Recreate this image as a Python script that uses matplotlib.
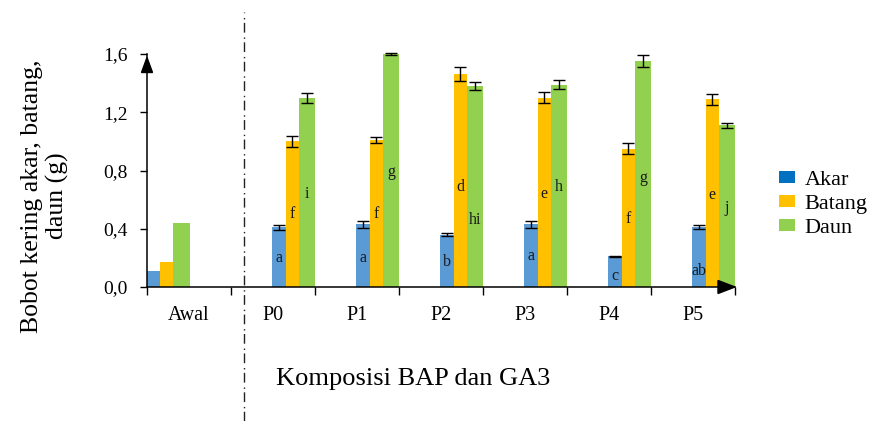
import matplotlib
matplotlib.use("Agg")
import matplotlib.pyplot as plt
from matplotlib.patches import Patch, Polygon
import matplotlib.transforms as mtransforms
import numpy as np

# ---- data -------------------------------------------------------------
groups = ["Awal", "P0", "P1", "P2", "P3", "P4", "P5"]
series = ["Akar", "Batang", "Daun"]

akar = [0.11, 0.41, 0.43, 0.36, 0.43, 0.21, 0.41]
batang = [0.17, 1.00, 1.01, 1.46, 1.30, 0.95, 1.29]
daun = [0.44, 1.30, 1.60, 1.38, 1.39, 1.55, 1.11]

akar_err = [0.0, 0.016, 0.025, 0.012, 0.022, 0.005, 0.015]
batang_err = [0.0, 0.036, 0.022, 0.048, 0.037, 0.039, 0.037]
daun_err = [0.0, 0.034, 0.006, 0.025, 0.033, 0.041, 0.019]

akar_letters = ["", "a", "a", "b", "a", "c", "ab"]
batang_letters = ["", "f", "f", "d", "e", "f", "e"]
daun_letters = ["", "i", "g", "hi", "h", "g", "j"]

y_ticks = [0.0, 0.4, 0.8, 1.2, 1.6]
y_ticklabels = ["0,0", "0,4", "0,8", "1,2", "1,6"]

# ---- layout -----------------------------------------------------------
colors = ["#5B9BD5", "#FFC000", "#92D050"]
legend_colors = ["#0070C0", "#FFC000", "#92D050"]
widths = [0.16, 0.155, 0.20]
# start of each cluster inside its slot (the baseline group sits flush left)
cluster_start = [0.0] + [0.49] * 6
# vertical placement of the significance letters (data units)
akar_lab_y = [0, 0.20, 0.20, 0.17, 0.21, 0.075, 0.107]
batang_lab_y = [0, 0.50, 0.50, 0.69, 0.64, 0.47, 0.63]
daun_lab_y = [0, 0.64, 0.79, 0.46, 0.69, 0.75, 0.54]

serif = ["Liberation Serif", "DejaVu Serif"]
plt.rcParams["font.family"] = serif

fig = plt.figure(figsize=(8.71, 4.21), dpi=100)
W, H = 871, 421
x0, x1, y0, y1 = 147, 735, 287, 54
ax = fig.add_axes([x0 / W, 1 - y0 / H, (x1 - x0) / W, (y0 - y1) / H])

n = len(groups)
slots = np.arange(n)
vals = [akar, batang, daun]
errs = [akar_err, batang_err, daun_err]
letters = [akar_letters, batang_letters, daun_letters]
lab_y = [akar_lab_y, batang_lab_y, daun_lab_y]

offset = np.array(cluster_start, dtype=float)
for k in range(3):
    left = slots + offset
    centers = left + widths[k] / 2
    ax.bar(left, vals[k], width=widths[k], align="edge", color=colors[k],
           edgecolor="none", zorder=2)
    for i in range(1, n):
        ax.errorbar(centers[i], vals[k][i], yerr=errs[k][i], fmt="none",
                    ecolor="black", elinewidth=1.0, capsize=4.2,
                    capthick=1.0, zorder=3, clip_on=False)
        ax.text(centers[i], lab_y[k][i], letters[k][i], ha="center",
                va="center", fontsize=11.5, color="#1a1a1a", zorder=4)
    offset = offset + widths[k]

ax.set_xlim(0, n)
ax.set_ylim(0, 1.6)

# y axis
ax.set_yticks(y_ticks)
ax.set_yticklabels(y_ticklabels, fontsize=14)
ax.tick_params(axis="y", direction="out", length=5, width=1.0, pad=9)

# x axis: boundary ticks, group names centred in each slot
ax.set_xticks(np.arange(n + 1))
ax.set_xticklabels([])
ax.set_xticks(slots + 0.5, minor=True)
ax.set_xticklabels(groups, minor=True, fontsize=14.5)
ax.tick_params(axis="x", which="major", direction="out", length=6, width=1.0)
ax.tick_params(axis="x", which="minor", length=0, pad=14)

for s in ["top", "right"]:
    ax.spines[s].set_visible(False)
for s in ["left", "bottom"]:
    ax.spines[s].set_linewidth(1.1)
    ax.spines[s].set_zorder(5)

# arrow heads on both axes (axes fraction)
aw, ah = (x1 - x0), (y0 - y1)
ax.add_patch(Polygon([[1.0, 0.0], [1 - 17 / aw, 6.5 / ah], [1 - 17 / aw, -6.5 / ah]],
                     closed=True, transform=ax.transAxes, color="black",
                     clip_on=False, zorder=6))
ax.add_patch(Polygon([[0.0, 0.985], [-5.5 / aw, 0.985 - 15 / ah], [5.5 / aw, 0.985 - 15 / ah]],
                     closed=True, transform=ax.transAxes, color="black",
                     clip_on=False, zorder=6))

# dash-dot divider between the baseline group and the treatments
trans = mtransforms.blended_transform_factory(ax.transData, ax.transAxes)
ax.plot([1.155, 1.155], [(y0 - H) / ah, (y0 - 12) / ah], transform=trans,
        color="#222222", lw=1.0, linestyle=(0, (7, 2.5, 1, 3.5)),
        clip_on=False, zorder=1)

# axis titles
fig.text(45 / W, 1 - 196 / H, "Bobot kering akar, batang,\ndaun (g)",
         rotation=90, ha="center", va="center", fontsize=18.5,
         linespacing=1.2, multialignment="center")
fig.text(413 / W, 1 - 379 / H, "Komposisi BAP dan GA3", ha="center",
         va="center", fontsize=19)

handles = [Patch(facecolor=c, edgecolor="none") for c in legend_colors]
fig.legend(handles, series, loc="upper left", bbox_to_anchor=(768 / W, 1 - 160 / H),
           frameon=False, fontsize=16, handlelength=0.7, handleheight=0.42,
           handletextpad=0.45, labelspacing=0.22, borderpad=0)

fig.savefig("out.png", dpi=100)
